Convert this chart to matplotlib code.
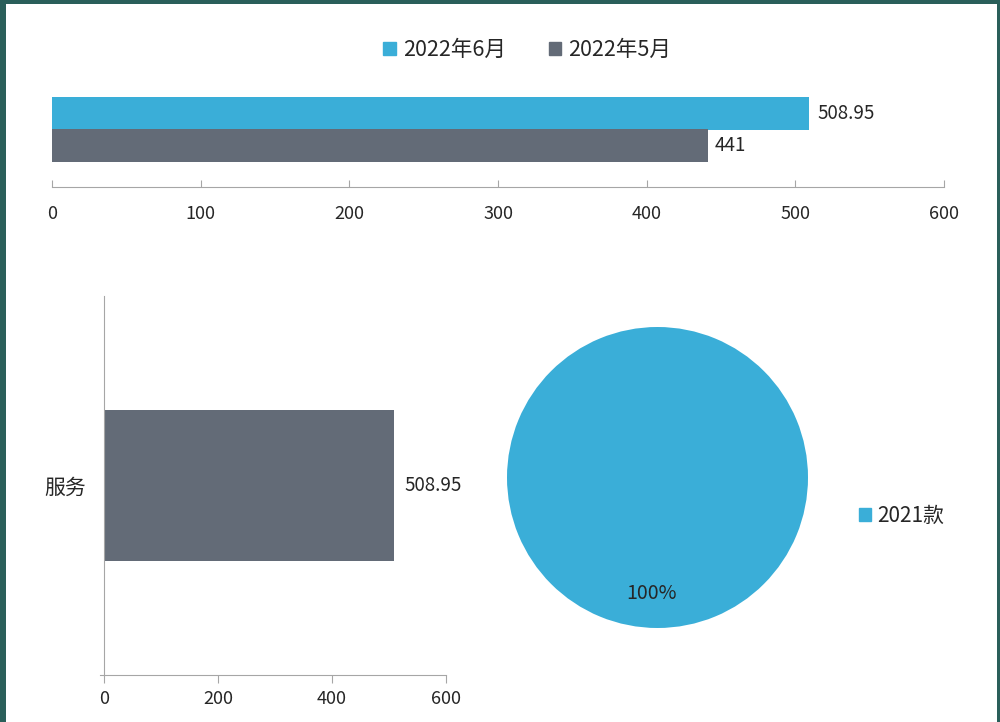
import matplotlib
matplotlib.use("Agg")
import matplotlib.pyplot as plt
from matplotlib.patches import Patch, Rectangle

plt.rcParams['font.family'] = ['Noto Sans CJK SC', 'DejaVu Sans']

# top chart: monthly comparison
months = ["2022年6月", "2022年5月"]
month_values = [508.95, 441]
month_labels = ["508.95", "441"]

# bottom-left: category bar
categories = ["服务"]
cat_values = [508.95]

# bottom-right: share pie
pie_labels = ["2021款"]
pie_values = [100]

blue = "#3aaed8"
gray = "#636b77"
spine_c = "#a6a6a6"
text_c = "#262626"

W, H = 1000, 722
fig = plt.figure(figsize=(W / 100, H / 100), dpi=100)


def box(l, t, r, b):
    return [l / W, 1 - b / H, (r - l) / W, (b - t) / H]


# ---- top chart
ax1 = fig.add_axes(box(52, 82.5, 944, 187))
h = 0.32
ax1.barh([h / 2], [month_values[0]], height=h, color=blue)
ax1.barh([-h / 2], [month_values[1]], height=h, color=gray)
ax1.text(month_values[0] + 6, h / 2, month_labels[0], va="center", fontsize=13.5, color=text_c)
ax1.text(month_values[1] + 5, -h / 2, month_labels[1], va="center", fontsize=13.5, color=text_c)
ax1.set_xlim(0, 600)
ax1.set_ylim(-0.575, 0.47)
ax1.set_xticks(range(0, 601, 100))
ax1.set_yticks([])
for s in ["left", "right", "top"]:
    ax1.spines[s].set_visible(False)
ax1.spines["bottom"].set_color(spine_c)
ax1.tick_params(axis="x", direction="in", length=5, color=spine_c, labelsize=13,
                labelcolor=text_c, pad=13)

fig.legend(handles=[Patch(color=blue, label=months[0]), Patch(color=gray, label=months[1])],
           loc="center", bbox_to_anchor=(527 / W, 1 - 50 / H), ncol=2, frameon=False,
           fontsize=15.5, handlelength=0.6, handleheight=0.6, handletextpad=0.3,
           columnspacing=2.0, labelcolor=text_c)

# ---- bottom-left bar
ax2 = fig.add_axes(box(104, 296, 446, 675))
ax2.barh(categories, cat_values, height=0.4, color=gray)
ax2.text(cat_values[0] + 19, 0, "508.95", va="center", fontsize=13.5, color=text_c)
ax2.set_xlim(0, 600)
ax2.set_ylim(-0.5, 0.5)
ax2.set_xticks(range(0, 601, 200))
for s in ["right", "top"]:
    ax2.spines[s].set_visible(False)
ax2.spines["left"].set_color(spine_c)
ax2.spines["bottom"].set_color(spine_c)
ax2.spines["bottom"].set_bounds(-7, 600)
ax2.spines["bottom"].set_clip_on(False)
ax2.tick_params(axis="x", direction="out", length=6, color=spine_c, labelsize=13,
                labelcolor=text_c, pad=5)
ax2.tick_params(axis="y", length=0, labelsize=15, labelcolor=text_c, pad=13)

# ---- pie
ax3 = fig.add_axes(box(507, 327, 808, 628))
_, _, autotexts = ax3.pie(pie_values, colors=[blue], startangle=90, autopct="%d%%",
                          pctdistance=0.77, textprops=dict(fontsize=14, color=text_c))
for t in autotexts:
    x, y = t.get_position()
    t.set_position((x - 0.04, y))
ax3.set_xlim(-1, 1)
ax3.set_ylim(-1, 1)
ax3.set_aspect("equal")

fig.legend(handles=[Patch(color=blue, label=pie_labels[0])], loc="center left",
           bbox_to_anchor=(840 / W, 1 - 516 / H), frameon=False, fontsize=15,
           handlelength=0.6, handleheight=0.6, handletextpad=0.3, labelcolor=text_c)

# ---- frame
frame_c = "#2a5f5a"
for l, t, r, b in [(0, 0, 6, H), (0, 0, W, 4), (997, 0, W, H)]:
    fig.add_artist(Rectangle((l / W, 1 - b / H), (r - l) / W, (b - t) / H,
                             transform=fig.transFigure, color=frame_c, lw=0))

fig.savefig("out.png", dpi=100)
